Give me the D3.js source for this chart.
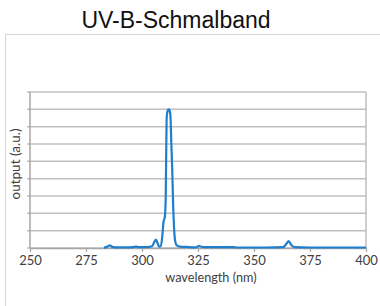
<!DOCTYPE html>
<html lang="de">
<head>
    <meta charset="UTF-8">
    <title>UV-B-Schmalband</title>
    <script src="https://cdn.jsdelivr.net/npm/d3@7"></script>
    <style>
        body { margin: 0; background: #fff; }
        svg { display: block; }
    </style>
</head>
<body>
<div id="chart"></div>
<script>
    // spectrum
    const wavelength = [283, 284, 285, 285.7, 286.5, 288, 292, 296, 297.3, 298.5, 302, 304.5, 305.5, 306.2,
        306.9, 307.6, 308.3, 309, 309.6, 310.2, 310.6, 311.0, 311.4, 311.9, 312.3, 312.7, 313.1, 313.5,
        313.9, 314.3, 314.8, 315.5, 317, 320, 324, 325.5, 326.5, 328, 335, 341, 342, 355, 363, 364.5,
        365.5, 366.5, 368, 375, 390, 400];
    const output = [0.02, 0.05, 0.12, 0.15, 0.08, 0.04, 0.04, 0.05, 0.08, 0.05, 0.05, 0.1, 0.35, 0.48,
        0.3, 0.08, 0.1, 0.6, 1.5, 1.8, 3.0, 7.5, 7.9, 8.0, 7.95, 7.6, 6.0, 4.5,
        2.5, 1.2, 0.4, 0.15, 0.08, 0.06, 0.04, 0.12, 0.07, 0.05, 0.05, 0.05, 0.03, 0.03, 0.05, 0.25,
        0.4, 0.2, 0.05, 0.03, 0.03, 0.03];
    const xTicks = [250, 275, 300, 325, 350, 375, 400];
    const yTicks = [0, 1, 2, 3, 4, 5, 6, 7, 8, 9];

    const width = 380;
    const height = 306;
    const margin = {top: 92, right: 14, bottom: 58, left: 30};

    const svg = d3.select("#chart")
        .append("svg")
            .attr("width", width)
            .attr("height", height);

    // title
    svg.append("text")
        .attr("x", 176)
        .attr("y", 28)
        .attr("text-anchor", "middle")
        .attr("font-family", "Liberation Sans, Arial, sans-serif")
        .attr("font-size", 23)
        .attr("fill", "#111")
        .text("UV-B-Schmalband");

    // frame of the pasted image
    svg.append("path")
        .attr("d", `M5.5,${height}V34.5H${width}`)
        .attr("fill", "none")
        .attr("stroke", "#d6d6d6")
        .attr("stroke-width", 1);

    const x = d3.scaleLinear()
        .domain([250, 400])
        .range([margin.left, width - margin.right]);

    const y = d3.scaleLinear()
        .domain([0, 9])
        .range([height - margin.bottom, margin.top]);

    // horizontal grid
    svg.append("g")
        .selectAll("line")
        .data(yTicks)
        .join("line")
            .attr("x1", margin.left - 3)
            .attr("x2", width - margin.right)
            .attr("y1", d => y(d))
            .attr("y2", d => y(d))
            .attr("stroke", "#bfbfbf")
            .attr("stroke-width", 1.5);

    // side lines
    svg.append("line")
        .attr("x1", x(250)).attr("x2", x(250))
        .attr("y1", y(9)).attr("y2", y(0))
        .attr("stroke", "#a6a6a6").attr("stroke-width", 1.5);
    svg.append("line")
        .attr("x1", x(400)).attr("x2", x(400))
        .attr("y1", y(9)).attr("y2", y(0))
        .attr("stroke", "#bfbfbf").attr("stroke-width", 1.5);

    // x axis
    const xAxis = svg.append("g")
        .attr("transform", `translate(0,${y(0)})`)
        .call(d3.axisBottom(x).tickValues(xTicks).tickSize(4).tickSizeOuter(0).tickPadding(4));
    xAxis.select(".domain").attr("stroke", "#a6a6a6").attr("stroke-width", 1.5);
    xAxis.selectAll(".tick line").attr("stroke", "#a6a6a6").attr("stroke-width", 1.2);
    xAxis.selectAll("text")
        .attr("font-family", "Lato, sans-serif")
        .attr("font-size", 13)
        .attr("fill", "#404040");

    // axis titles
    svg.append("text")
        .attr("x", 211)
        .attr("y", 282)
        .attr("text-anchor", "middle")
        .attr("font-family", "Lato, sans-serif")
        .attr("font-size", 12.7)
        .attr("fill", "#404040")
        .text("wavelength (nm)");

    svg.append("text")
        .attr("transform", `translate(19.5,164) rotate(-90)`)
        .attr("text-anchor", "middle")
        .attr("font-family", "Lato, sans-serif")
        .attr("font-size", 13.5)
        .attr("fill", "#404040")
        .text("output (a.u.)");

    // spectrum line
    const points = wavelength.map((d, i) => [d, output[i]]);
    const line = d3.line()
        .x(d => x(d[0]))
        .y(d => y(d[1]))
        .curve(d3.curveMonotoneX);

    svg.append("path")
        .datum(points)
        .attr("d", line)
        .attr("fill", "none")
        .attr("stroke", "#1f7fcc")
        .attr("stroke-width", 2.2)
        .attr("stroke-linejoin", "round");
</script>
</body>
</html>
